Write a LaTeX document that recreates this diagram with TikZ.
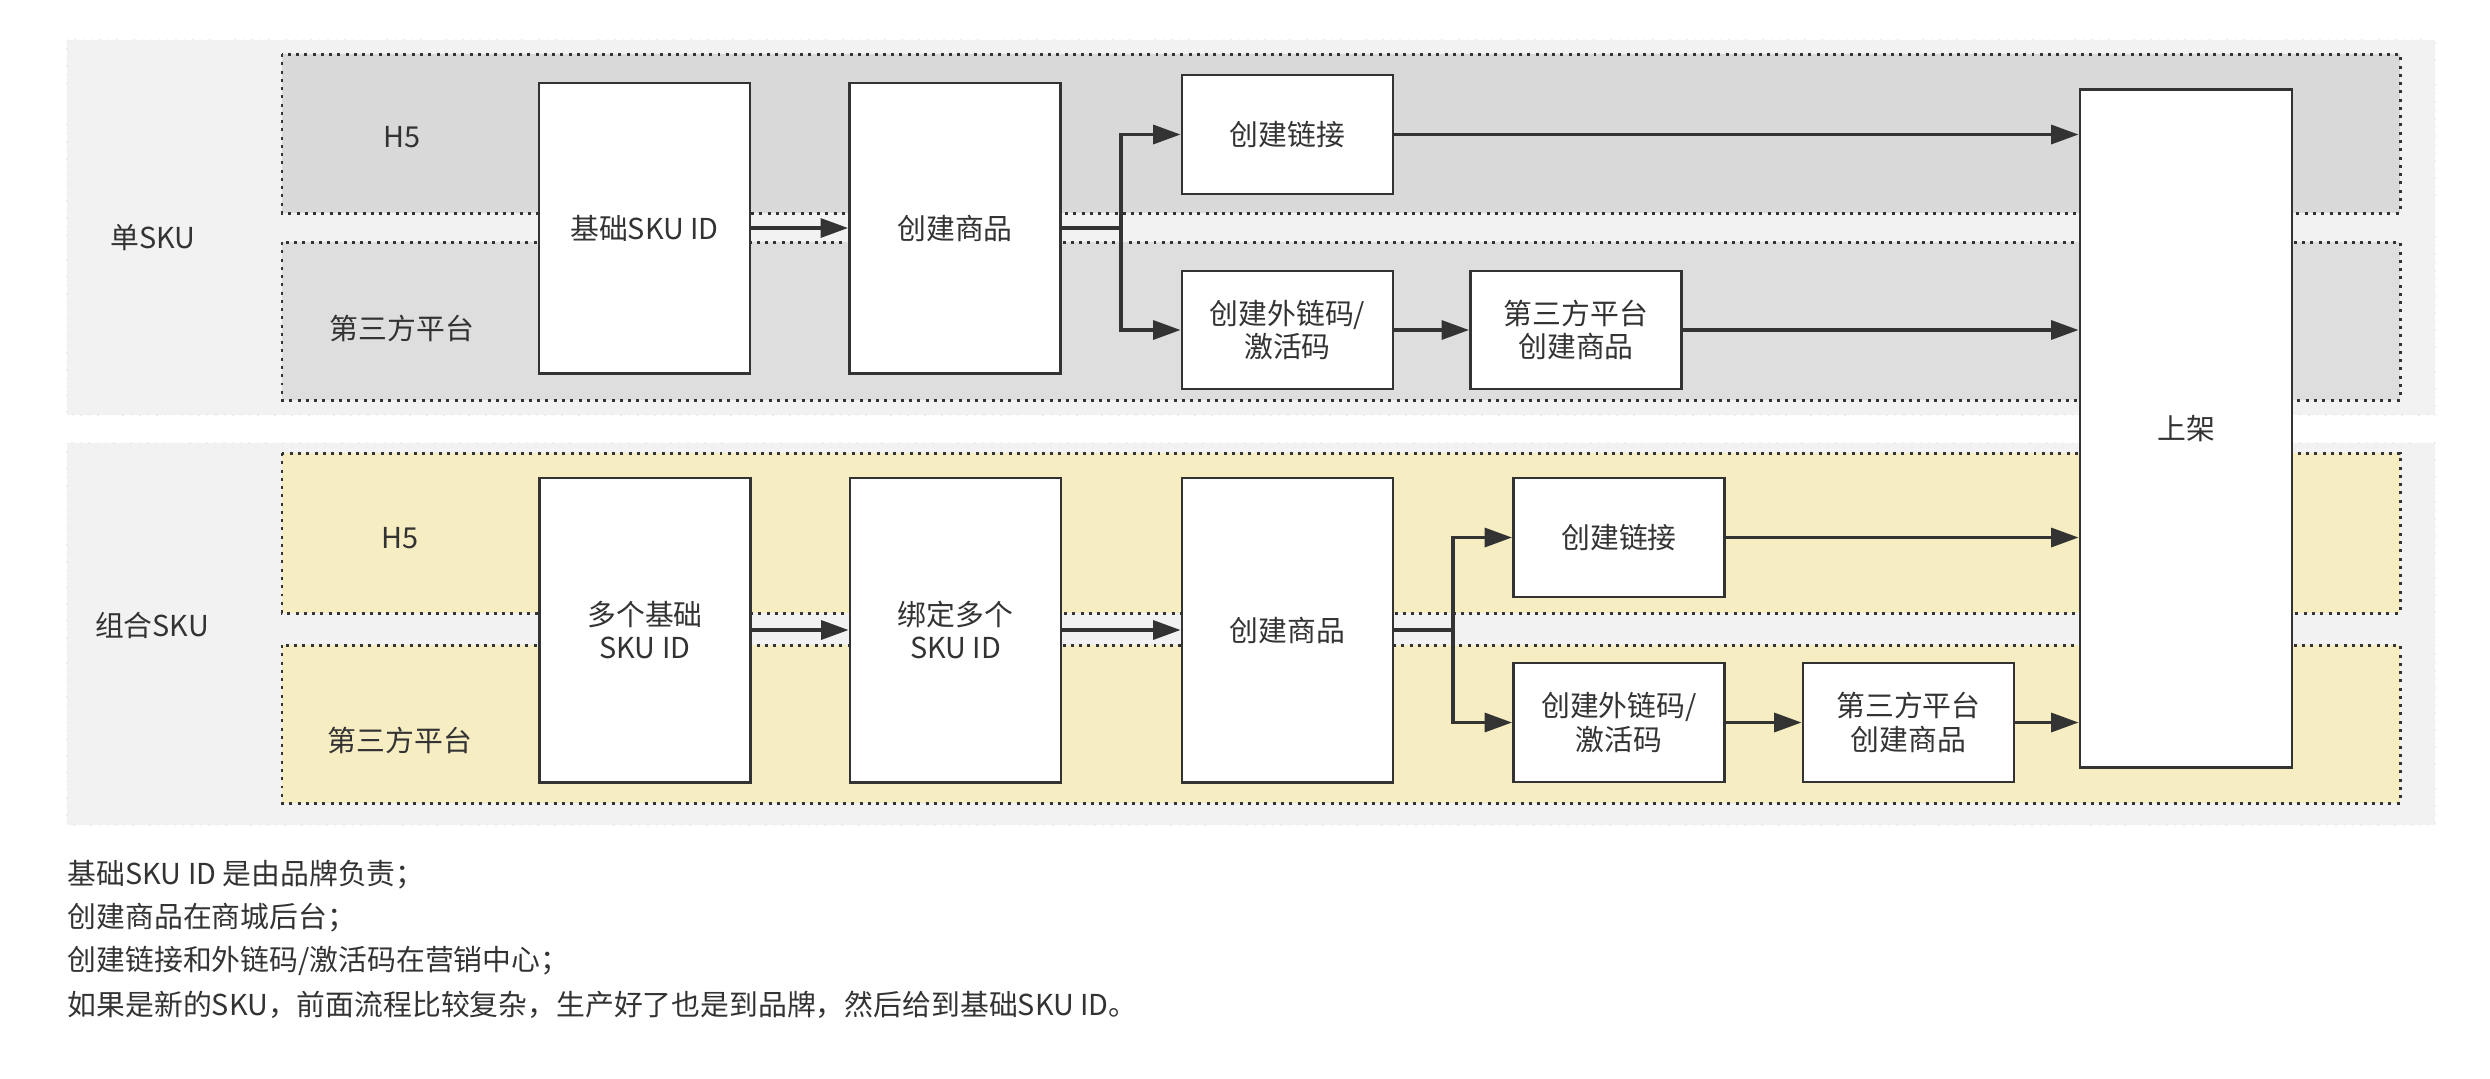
\documentclass[tikz,border=0pt]{standalone}
\usepackage{fontspec}
\setmainfont{Noto Sans CJK SC}
\usepackage{tikz}
\usetikzlibrary{arrows.meta}
\definecolor{txt}{HTML}{333333}
\definecolor{groupbg}{HTML}{F2F2F2}
\definecolor{laneA}{HTML}{D9D9D9}
\definecolor{laneB}{HTML}{DEDEDE}
\definecolor{laneY}{HTML}{F6EDC2}

\begin{document}
\begin{tikzpicture}[x=0.01cm,y=-0.01cm,
        every node/.style={text=txt,font=\fontsize{8.2pt}{9.6pt}\selectfont},
        group/.style={fill=groupbg,draw=black!7,dotted},
        lane/.style={draw=txt,line width=0.85pt,dash pattern=on 0.85pt off 1.5pt},
        box/.style={draw=txt,fill=white,line width=0.8pt,align=center,inner sep=0pt,minimum width=2.11cm},
        arr/.style={draw=txt,line width=0.95pt,-{Triangle[length=7.8pt,width=5.4pt]}}]
        \useasboundingbox (0,0) rectangle (2490,1078);
        \draw [group] (67,40) rectangle (2435,415);
        \draw [group] (67,443) rectangle (2435,825);
        \draw [lane,fill=laneA] (282,54) rectangle (2400,213);
        \draw [lane,fill=laneB] (282,242) rectangle (2400,400);
        \draw [lane,fill=laneY] (282,453) rectangle (2400,613);
        \draw [lane,fill=laneY] (282,645) rectangle (2400,803);

        \node (lbSingle) at(153,238) {单SKU};
        \node (lbSingleH) at(402,137) {H5};
        \node (lbSingleT) at(402,328) {第三方平台};
        \node (lbCombo) at(152,625) {组合SKU};
        \node (lbComboH) at(400,538) {H5};
        \node (lbComboT) at(400,740) {第三方平台};

        % 单SKU
        \node [box,minimum height=2.9cm] (baseId) at(644.5,228) {基础SKU ID};
        \node [box,minimum height=2.9cm] (goods) at(955,228) {创建商品};
        \node [box,minimum height=1.19cm] (link) at(1287.5,134.5) {创建链接};
        \node [box,minimum height=1.18cm] (code) at(1287.5,330) {创建外链码/\\激活码};
        \node [box,minimum height=1.18cm] (third) at(1576,330) {第三方平台\\创建商品};
        \node [box,minimum width=2.12cm,minimum height=6.77cm] (shelf) at(2186,428.5) {上架};
        \coordinate (fork) at(1121,228);

        % 组合SKU
        \node [box,minimum height=3.04cm] (multiId) at(645,630) {多个基础\\SKU ID};
        \node [box,minimum height=3.04cm] (bind) at(955.5,630) {绑定多个\\SKU ID};
        \node [box,minimum height=3.04cm] (goodsB) at(1287.5,630) {创建商品};
        \node [box,minimum height=1.19cm] (linkB) at(1619,537.5) {创建链接};
        \node [box,minimum height=1.19cm] (codeB) at(1619,722.5) {创建外链码/\\激活码};
        \node [box,minimum height=1.19cm] (thirdB) at(1908.5,722.5) {第三方平台\\创建商品};
        \coordinate (forkB) at(1453,630);

        \draw [arr] (baseId) -- (goods);
        \draw [arr] (goods.east) -- (fork) |- (link.west);
        \draw [arr] (fork) |- (code.west);
        \draw [arr] (link.east) -- (link.east -| shelf.west);
        \draw [arr] (code) -- (third);
        \draw [arr] (third.east) -- (third.east -| shelf.west);

        \draw [arr] (multiId) -- (bind);
        \draw [arr] (bind) -- (goodsB);
        \draw [arr] (goodsB.east) -- (forkB) |- (linkB.west);
        \draw [arr] (forkB) |- (codeB.west);
        \draw [arr] (linkB.east) -- (linkB.east -| shelf.west);
        \draw [arr] (codeB) -- (thirdB);
        \draw [arr] (thirdB.east) -- (thirdB.east -| shelf.west);

        % 说明
        \node [anchor=west,inner xsep=0pt] (noteA) at(67,875) {基础SKU ID 是由品牌负责；};
        \node [anchor=west,inner xsep=0pt] (noteB) at(67,918) {创建商品在商城后台；};
        \node [anchor=west,inner xsep=0pt] (noteC) at(67,961) {创建链接和外链码/激活码在营销中心；};
        \node [anchor=west,inner xsep=0pt] (noteD) at(67,1005) {如果是新的SKU，前面流程比较复杂，生产好了也是到品牌，然后给到基础SKU ID。};
    \end{tikzpicture}
\end{document}
